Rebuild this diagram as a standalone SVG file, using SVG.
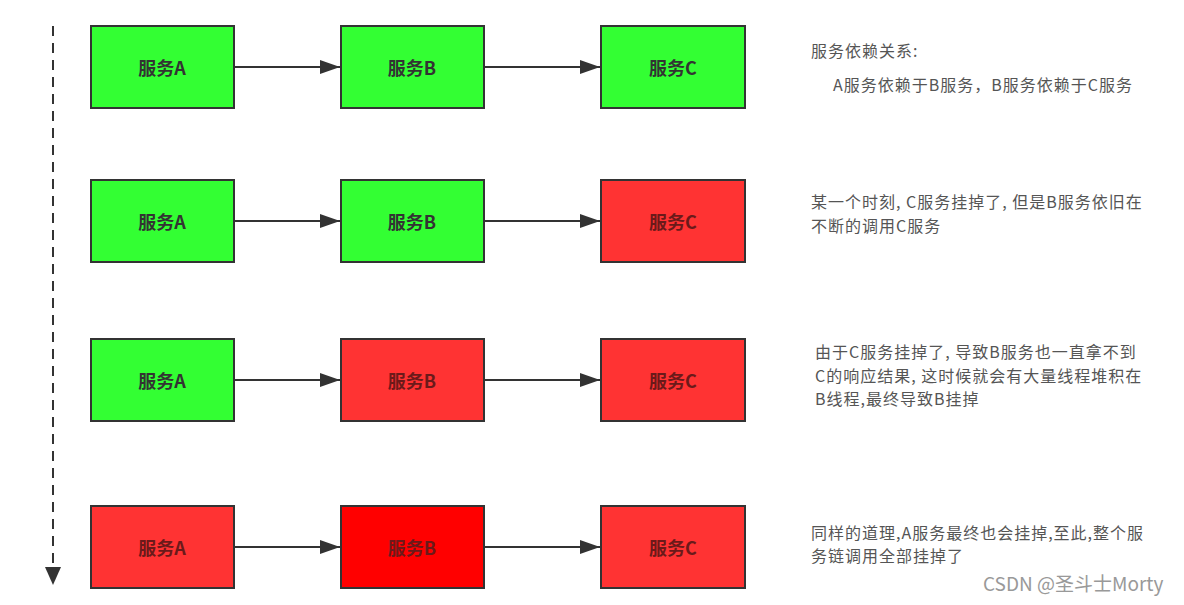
<svg xmlns="http://www.w3.org/2000/svg" width="1184" height="605" viewBox="0 0 1184 605">
<defs>
<marker id="ah2" viewBox="0 0 20 14" refX="20" refY="7" markerWidth="20" markerHeight="14" orient="auto" markerUnits="userSpaceOnUse">
<path d="M0,0 L20,7 L0,14 z" fill="#333"/>
</marker>
<marker id="ah3" viewBox="0 0 16 18" refX="8" refY="18" markerWidth="16" markerHeight="18" orient="0" markerUnits="userSpaceOnUse">
<path d="M0,0 L16,0 L8,18 z" fill="#333"/>
</marker>
<style>
.box{stroke:#333;stroke-width:2}
.g{fill:#33ff33}
.r{fill:#ff3333}
.dr{fill:#ff0000}
.lbl{font-family:"Noto Sans CJK SC","Noto Sans",sans-serif;font-size:18px;font-weight:bold;fill:#333;text-anchor:middle;dominant-baseline:central}
.lbl2{fill:#6b1a1a}
.note{font-family:"Noto Sans CJK SC","Noto Sans",sans-serif;font-size:16px;letter-spacing:1px;fill:#555}
.edge{stroke:#333;stroke-width:2;fill:none}
</style>
</defs>
<g id="timeline">
<line x1="53" y1="26" x2="53" y2="585" stroke="#333" stroke-width="2" stroke-dasharray="10,7" marker-end="url(#ah3)"/>
</g>
<g id="connectors">
<line class="edge" x1="234" y1="67" x2="340" y2="67" marker-end="url(#ah2)"/>
<line class="edge" x1="484" y1="67" x2="600" y2="67" marker-end="url(#ah2)"/>
<line class="edge" x1="234" y1="221" x2="340" y2="221" marker-end="url(#ah2)"/>
<line class="edge" x1="484" y1="221" x2="600" y2="221" marker-end="url(#ah2)"/>
<line class="edge" x1="234" y1="380" x2="340" y2="380" marker-end="url(#ah2)"/>
<line class="edge" x1="484" y1="380" x2="600" y2="380" marker-end="url(#ah2)"/>
<line class="edge" x1="234" y1="547" x2="340" y2="547" marker-end="url(#ah2)"/>
<line class="edge" x1="484" y1="547" x2="600" y2="547" marker-end="url(#ah2)"/>
</g>
<g id="r1a"><rect class="box g" x="91" y="26" width="143" height="82"/><text class="lbl" x="162" y="67">服务A</text></g>
<g id="r1b"><rect class="box g" x="341" y="26" width="143" height="82"/><text class="lbl" x="412" y="67">服务B</text></g>
<g id="r1c"><rect class="box g" x="601" y="26" width="144" height="82"/><text class="lbl" x="673" y="67">服务C</text></g>
<g id="r2a"><rect class="box g" x="91" y="180" width="143" height="82"/><text class="lbl" x="162" y="221">服务A</text></g>
<g id="r2b"><rect class="box g" x="341" y="180" width="143" height="82"/><text class="lbl" x="412" y="221">服务B</text></g>
<g id="r2c"><rect class="box r" x="601" y="180" width="144" height="82"/><text class="lbl lbl2" x="673" y="221">服务C</text></g>
<g id="r3a"><rect class="box g" x="91" y="339" width="143" height="82"/><text class="lbl" x="162" y="380">服务A</text></g>
<g id="r3b"><rect class="box r" x="341" y="339" width="143" height="82"/><text class="lbl lbl2" x="412" y="380">服务B</text></g>
<g id="r3c"><rect class="box r" x="601" y="339" width="144" height="82"/><text class="lbl lbl2" x="673" y="380">服务C</text></g>
<g id="r4a"><rect class="box r" x="91" y="506" width="143" height="82"/><text class="lbl lbl2" x="162" y="547">服务A</text></g>
<g id="r4b"><rect class="box dr" x="341" y="506" width="143" height="82"/><text class="lbl lbl2" x="412" y="547">服务B</text></g>
<g id="r4c"><rect class="box r" x="601" y="506" width="144" height="82"/><text class="lbl lbl2" x="673" y="547">服务C</text></g>
<g id="notes">
<text class="note" x="811" y="57">服务依赖关系:</text>
<text class="note" x="833" y="91">A服务依赖于B服务，B服务依赖于C服务</text>
<text class="note" x="811" y="208">某一个时刻, C服务挂掉了, 但是B服务依旧在</text>
<text class="note" x="811" y="232">不断的调用C服务</text>
<text class="note" x="815" y="358">由于C服务挂掉了, 导致B服务也一直拿不到</text>
<text class="note" x="815" y="382">C的响应结果, 这时候就会有大量线程堆积在</text>
<text class="note" x="815" y="405">B线程,最终导致B挂掉</text>
<text class="note" x="811" y="539">同样的道理,A服务最终也会挂掉,至此,整个服</text>
<text class="note" x="811" y="562">务链调用全部挂掉了</text>
</g>
<text x="983" y="591" font-family="'Noto Sans CJK SC','Noto Sans',sans-serif" font-size="19" fill="#999">CSDN @圣斗士Morty</text>
</svg>
